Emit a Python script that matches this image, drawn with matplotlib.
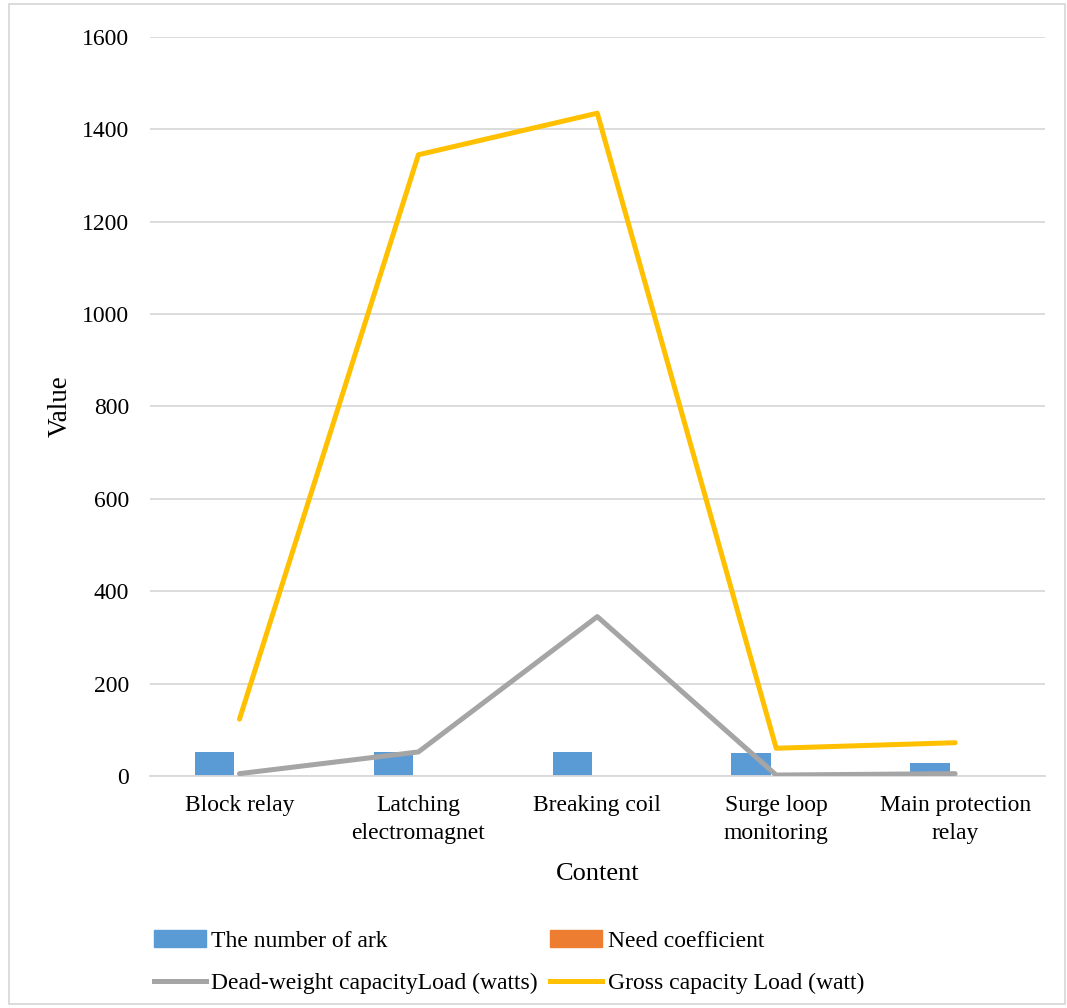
import numpy as np
import matplotlib
matplotlib.use("Agg")
import matplotlib.pyplot as plt
from matplotlib.patches import Patch
from matplotlib.lines import Line2D

plt.rcParams['font.family'] = ['Liberation Serif', 'DejaVu Serif']

categories = ["Block relay", "Latching\nelectromagnet", "Breaking coil",
              "Surge loop\nmonitoring", "Main protection\nrelay"]
num_ark = [52, 52, 52, 50, 29]
need_coef = [0.6, 0.6, 0.6, 0.8, 0.8]
dead_weight = [5, 52, 345, 2, 5]
gross = [123, 1345, 1435, 60, 72]

BLUE = "#5b9bd5"
ORANGE = "#ed7d31"
GRAY = "#a5a5a5"
GOLD = "#ffc000"

fig = plt.figure(figsize=(10.67, 10.08), dpi=100)
ax = fig.add_axes([0.1406, 0.2302, 0.8384, 0.7331])

x = np.arange(len(categories))
w = 0.22
ax.bar(x - 0.14, num_ark, width=w, color=BLUE, zorder=2)
ax.bar(x + 0.10, need_coef, width=w, color=ORANGE, zorder=2)
ax.plot(x, dead_weight, color=GRAY, lw=3.6, solid_capstyle='round', zorder=3)
ax.plot(x, gross, color=GOLD, lw=3.6, solid_capstyle='round', zorder=4)

ax.set_xlim(-0.5, len(categories) - 0.5)
ax.set_ylim(0, 1600)
ax.set_yticks(range(0, 1601, 200))
ax.yaxis.grid(True, color="#d9d9d9", lw=1.3, zorder=0)
ax.set_axisbelow(True)
for s in ["top", "right", "left"]:
    ax.spines[s].set_visible(False)
ax.spines["bottom"].set_color("#d9d9d9")
ax.spines["bottom"].set_linewidth(1.3)
ax.tick_params(axis="both", length=0, labelsize=17, colors="black")
ax.tick_params(axis="y", pad=15)
ax.tick_params(axis="x", pad=14)
ax.set_xticks(x)
ax.set_xticklabels(categories, linespacing=1.4)
ax.set_ylabel("Value", fontsize=19.5, labelpad=7)
ax.set_xlabel("Content", fontsize=19, labelpad=14)

handles = [Patch(color=BLUE), Line2D([], [], color=GRAY, lw=3.6),
           Patch(color=ORANGE), Line2D([], [], color=GOLD, lw=3.6)]
labels = ["The number of ark", "Dead-weight capacityLoad (watts)",
          "Need coefficient", "Gross capacity Load (watt)"]
fig.legend(handles, labels, ncol=2, loc="lower left",
           bbox_to_anchor=(0.124, -0.007), frameon=False, fontsize=17,
           handlelength=2.2, handletextpad=0.25, columnspacing=0.5,
           labelspacing=0.88)

fig.patches.append(plt.Rectangle((0.008, 0.004), 0.99, 0.992, transform=fig.transFigure,
                                 fill=False, edgecolor="#d9d9d9", lw=1.3))
fig.savefig("out.png", dpi=100, facecolor="white")
